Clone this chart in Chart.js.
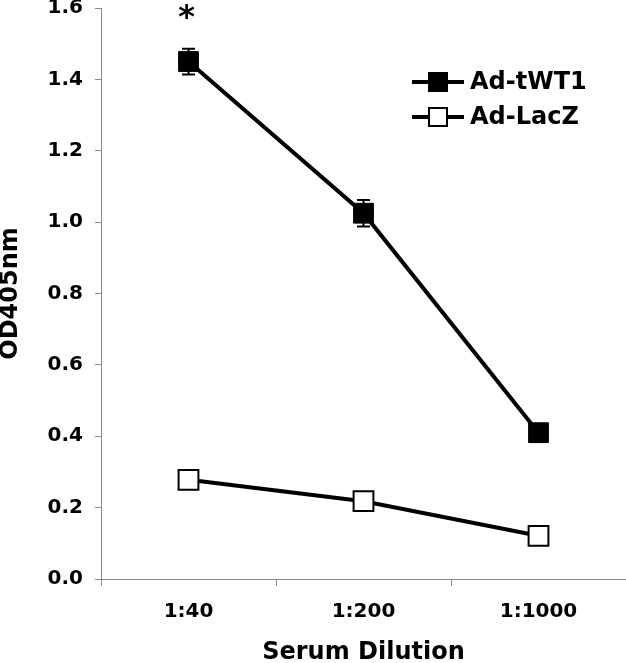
<!DOCTYPE html>
<html><head><meta charset="utf-8">
<script src="https://cdn.jsdelivr.net/npm/chart.js@4/dist/chart.umd.min.js"></script>
<style>html,body{margin:0;padding:0;background:#fff;}</style>
</head><body>
<canvas id="c" width="626" height="663"></canvas>
<script>
const categories = ['1:40', '1:200', '1:1000'];
const seriesNames = ['Ad-tWT1', 'Ad-LacZ'];
const tWT1 = [1.45, 1.025, 0.41];
const tWT1Err = [0.036, 0.037, 0];
const lacZ = [0.278, 0.218, 0.121];
const lacZErr = [0, 0, 0];
const yMin = 0, yMax = 1.6, yStep = 0.2;
const yTitle = 'OD405nm';
const xTitle = 'Serum Dilution';
const sigMark = '*';
const sigIndex = 0;

const FONT = "'DejaVu Sans', Verdana, sans-serif";
const AXIS = '#8a8a8a';

const errorBars = {
  id: 'errorBars',
  beforeDatasetsDraw(chart) {
    const ctx = chart.ctx, ys = chart.scales.y;
    chart.data.datasets.forEach((ds, di) => {
      const meta = chart.getDatasetMeta(di);
      (ds.errors || []).forEach((e, i) => {
        if (!e) return;
        const x = meta.data[i].x;
        const top = ys.getPixelForValue(ds.data[i] + e);
        const bot = ys.getPixelForValue(ds.data[i] - e);
        ctx.save();
        ctx.strokeStyle = '#000'; ctx.lineWidth = 2;
        ctx.beginPath();
        ctx.moveTo(x, top); ctx.lineTo(x, bot);
        ctx.moveTo(x - 6.5, top); ctx.lineTo(x + 6.5, top);
        ctx.moveTo(x - 6.5, bot); ctx.lineTo(x + 6.5, bot);
        ctx.stroke();
        ctx.restore();
      });
    });
  }
};

const extras = {
  id: 'extras',
  afterDraw(chart) {
    const ctx = chart.ctx, xs = chart.scales.x, ys = chart.scales.y;
    ctx.save();
    ctx.fillStyle = '#000';
    ctx.font = "bold 32px " + FONT;
    ctx.textAlign = 'center';
    ctx.textBaseline = 'alphabetic';
    ctx.fillText(sigMark, xs.getPixelForValue(sigIndex) - 2, ys.getPixelForValue(yMax) + 18.5);
    ctx.restore();
    const lx0 = 412, rowY = [82, 117];
    chart.data.datasets.forEach((ds, i) => {
      const y = rowY[i];
      ctx.save();
      ctx.strokeStyle = ds.borderColor; ctx.lineWidth = 4;
      ctx.beginPath(); ctx.moveTo(lx0, y); ctx.lineTo(lx0 + 52, y); ctx.stroke();
      ctx.fillStyle = ds.pointBackgroundColor;
      ctx.fillRect(lx0 + 16, y - 10, 20, 20);
      ctx.lineWidth = ds.pointBorderWidth; ctx.strokeStyle = ds.pointBorderColor;
      ctx.strokeRect(lx0 + 16 + ds.pointBorderWidth/2, y - 10 + ds.pointBorderWidth/2, 20 - ds.pointBorderWidth, 20 - ds.pointBorderWidth);
      ctx.fillStyle = '#000';
      ctx.font = "bold 24px " + FONT;
      ctx.textAlign = 'left'; ctx.textBaseline = 'middle';
      ctx.fillText(ds.label, lx0 + 58, y + 1);
      ctx.restore();
    });
  }
};

new Chart(document.getElementById('c'), {
  type: 'line',
  data: {
    labels: categories,
    datasets: [
      { label: seriesNames[0], data: tWT1, errors: tWT1Err,
        borderColor: '#000', borderWidth: 4,
        pointStyle: 'rect', pointRadius: 14, pointHoverRadius: 14,
        pointBackgroundColor: '#000', pointBorderColor: '#000', pointBorderWidth: 1 },
      { label: seriesNames[1], data: lacZ, errors: lacZErr,
        borderColor: '#000', borderWidth: 4,
        pointStyle: 'rect', pointRadius: 14, pointHoverRadius: 14,
        pointBackgroundColor: '#fff', pointBorderColor: '#000', pointBorderWidth: 2 }
    ]
  },
  options: {
    responsive: false,
    animation: false,
    events: [],
    layout: { autoPadding: false, padding: { top: 8, right: 0, left: 0, bottom: 0 } },
    plugins: { legend: { display: false }, tooltip: { enabled: false } },
    scales: {
      x: {
        type: 'category',
        offset: true,
        grid: { offset: true, drawOnChartArea: false, color: AXIS, tickLength: 7, tickWidth: 1 },
        border: { color: AXIS, width: 1 },
        ticks: { color: '#000', font: { family: FONT, size: 20, weight: 'bold' }, padding: 14, maxRotation: 0 },
        title: { display: true, text: xTitle, color: '#000', font: { family: FONT, size: 24, weight: 'bold', lineHeight: 1 }, padding: { top: 0, bottom: -2 } },
        afterFit(s) { s.height = 84; s.paddingLeft = 0; s.paddingRight = 0; }
      },
      y: {
        min: yMin, max: yMax,
        grid: { drawOnChartArea: false, color: AXIS, tickLength: 6 },
        border: { color: AXIS, width: 1 },
        ticks: { stepSize: yStep, color: '#000', padding: 12,
          font: { family: FONT, size: 20, weight: 'bold' },
          callback: v => Number(v).toFixed(1) },
        title: { display: true, text: yTitle, color: '#000', font: { family: FONT, size: 24, weight: 'bold', lineHeight: 1 }, padding: { top: -1, bottom: 0 } },
        afterFit(s) { s.width = 101; s.paddingTop = 0; s.paddingBottom = 0; }
      }
    }
  },
  plugins: [errorBars, extras]
});
</script>
</body></html>
